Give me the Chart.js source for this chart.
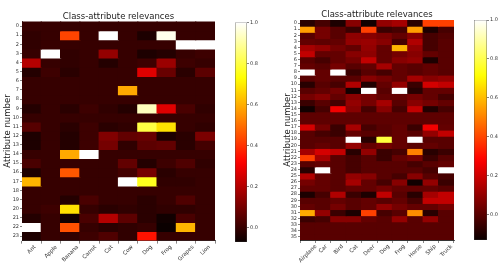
<!DOCTYPE html>
<html>
<head>
<meta charset="utf-8">
<script src="https://cdn.jsdelivr.net/npm/chart.js@4.4.1/dist/chart.umd.min.js"></script>
<style>
  html, body { margin: 0; padding: 0; background: #fff; width: 498px; height: 268px; overflow: hidden; }
  canvas { position: absolute; top: 0; }
</style>
</head>
<body>
<canvas id="heatA" width="225" height="268" style="left:0px"></canvas>
<canvas id="barA" width="40" height="268" style="left:228px"></canvas>
<canvas id="heatB" width="184" height="268" style="left:278px"></canvas>
<canvas id="barB" width="32" height="268" style="left:466px"></canvas>
<script>
// left panel: food / animal classes, 24 attributes
const foodClasses = ['Ant', 'Apple', 'Banana', 'Carrot', 'Cat', 'Cow', 'Dog', 'Frog', 'Grapes', 'Lion'];
const foodRelevance = [
  [0, 0, 0, 0, 0, 0, 0, 0, 0, 0],
  [-0.01, 0, 0.43, 0, 1.0, 0, -0.04, 0.98, 0, 0],
  [-0.01, 0, 0, 0, 0, 0, 0, 0, 1.0, 1.0],
  [0, 1.0, -0.01, 0, 0.15, 0, -0.04, -0.03, 0, 0.01],
  [0.2, 0, -0.01, 0, -0.03, 0, 0.01, 0.16, 0.01, 0],
  [-0.03, 0.01, -0.02, 0, 0, 0, 0.27, 0.08, -0.02, 0.06],
  [0, 0, 0, 0, 0, 0, 0, 0, 0, 0],
  [0, 0, 0, 0, 0, 0.59, 0, 0, 0, 0],
  [0, 0, 0, 0, 0, 0, 0, 0, 0, 0],
  [-0.03, 0, -0.02, 0.01, -0.01, -0.03, 0.93, 0.27, 0.03, -0.01],
  [0, 0, 0, 0, 0, 0, 0, 0, 0, 0],
  [0.05, 0, -0.02, 0.01, -0.02, -0.01, 0.8, 0.68, 0, -0.01],
  [-0.04, 0, -0.03, 0.01, 0.12, 0.07, 0.08, -0.04, -0.02, 0.11],
  [-0.04, 0, -0.03, 0.01, 0.1, -0.01, 0.06, 0.07, -0.02, 0.02],
  [0, 0, 0.59, 1.0, 0, 0, 0, 0, 0, 0],
  [0.03, 0, 0, 0, 0, 0.07, -0.03, 0.01, 0.04, -0.01],
  [-0.04, 0, 0.46, 0, 0, 0.02, 0.1, -0.02, 0, 0],
  [0.61, 0, 0, 0, 0, 1.0, 0.76, -0.01, -0.01, 0],
  [0, 0, 0, 0, 0, 0, 0, 0, 0, 0],
  [0, 0, -0.03, 0.03, 0, 0, -0.02, 0, 0.04, 0],
  [0, 0.01, 0.68, 0, -0.02, -0.01, -0.02, -0.01, -0.01, 0],
  [-0.03, 0, -0.06, 0.03, 0.2, 0.06, -0.02, -0.06, 0.03, 0],
  [1.0, 0, 0.45, 0, -0.02, -0.01, 0, -0.07, 0.61, 0],
  [-0.04, 0, -0.01, 0.01, 0.04, -0.01, 0.35, 0, 0, 0],
];
const foodRange = [-0.07, 1.0];

// right panel: CIFAR-like classes, 36 attributes
const cifarClasses = ['Airplane', 'Car', 'Bird', 'Cat', 'Deer', 'Dog', 'Frog', 'Horse', 'Ship', 'Truck'];
const cifarRelevance = [
  [-0.08, -0.03, -0.1, 0.08, -0.12, 0.1, 0.13, -0.08, 0.39, 0.39],
  [0.55, 0.05, 0, -0.05, 0.39, -0.05, -0.03, 0.55, -0.1, -0.03],
  [0, 0.05, 0, 0.09, 0.08, 0.06, 0.02, 0.08, -0.03, -0.01],
  [0.02, 0.01, 0.02, 0.1, 0.11, 0.08, -0.03, 0.15, -0.03, 0],
  [0.13, 0.1, 0.05, 0.02, 0.1, 0.02, 0.59, 0.1, -0.03, 0],
  [0.18, 0.02, 0.02, 0.08, 0.09, 0.02, 0.05, 0.08, 0.02, 0],
  [0, -0.03, 0.02, 0.05, 0.18, 0.02, 0.08, 0.1, -0.1, 0],
  [0.02, 0, 0.05, 0, 0.02, 0.13, 0.02, 0, 0.02, 0],
  [1.0, 0.02, 1.0, -0.05, 0, -0.03, 0.02, 0, 0.02, 0],
  [0, 0.02, 0, 0, 0.08, 0.05, 0.02, 0.13, 0.08, 0.1],
  [-0.08, 0, -0.03, 0.15, -0.09, 0.02, 0.1, -0.05, 0.21, 0.18],
  [0, 0.02, 0.05, -0.12, 1.0, 0, 1.0, -0.08, 0.02, 0.02],
  [0.05, 0.08, 0.02, 0.08, 0.05, 0.02, 0.02, 0.05, 0.02, -0.03],
  [-0.05, 0, -0.03, 0.1, 0.05, 0.13, 0, 0.08, 0.05, 0.02],
  [-0.12, -0.03, 0.26, 0.08, -0.03, 0.08, -0.03, 0.18, -0.09, -0.03],
  [0.01, 0.01, 0.01, 0.01, 0.01, 0.01, 0.01, 0.01, 0.01, 0.01],
  [0.01, 0.01, 0.01, 0.01, 0.01, 0.01, 0.01, 0.01, 0.01, 0.01],
  [0.21, 0.05, -0.05, 0.13, -0.03, 0, 0.02, -0.05, 0.26, 0.02],
  [0, -0.03, -0.05, 0.02, 0, 0, 0.02, 0, 0.1, 0.18],
  [0, 0, 0, 1.0, -0.08, 0.78, 0.02, 1.0, 0, 0],
  [0, 0.02, 0, 0.1, 0.02, 0.05, 0.02, 0, 0.02, 0],
  [0.13, 0.21, 0.18, -0.08, 0.1, -0.05, -0.03, 0.5, -0.08, -0.05],
  [0.39, 0.13, 0, -0.03, 0, -0.05, 0.02, 0.05, -0.05, 0],
  [0, 0.02, 0, -0.03, 0, 0, 0, -0.03, 0, 0.02],
  [-0.08, 1.0, 0, -0.03, 0, 0, 0, 0, -0.03, 1.0],
  [0.15, 0.02, 0, 0.1, 0.08, 0, -0.03, 0.08, 0, -0.03],
  [0.05, 0.02, 0, 0.13, 0.02, -0.03, 0.08, -0.12, 0.1, -0.05],
  [0.02, 0.02, 0, 0.02, 0.02, 0.05, 0.02, 0.02, 0.02, 0],
  [-0.1, -0.03, 0.15, -0.05, -0.1, 0.18, 0, -0.08, 0.13, 0.18],
  [0, 0, 0.02, 0, 0.02, 0, 0.02, -0.03, 0.18, 0.18],
  [0.02, 0, 0.05, 0, 0.02, 0.1, 0.05, 0.02, 0.02, 0.05],
  [0.57, 0.1, -0.05, -0.1, 0.39, -0.03, 0, 0.52, -0.08, 0],
  [-0.05, -0.03, 0.08, 0.08, 0.02, 0, 0.1, 0, 0.1, 0],
  [0, 0, 0, 0, 0, 0, 0, 0, 0, 0],
  [0, 0, 0, 0, 0, 0, 0, 0, 0, 0],
  [0, 0, 0, 0, 0, 0, 0, 0, 0, 0],
];
const cifarRange = [-0.13, 1.0];

const colorbarTicks = [0, 0.2, 0.4, 0.6, 0.8, 1.0];

const FONT = "'DejaVu Sans', sans-serif";

// matplotlib 'hot'
function hot(t) {
  t = Math.max(0, Math.min(1, t));
  const r = Math.min(1, 0.0416 + 0.9584 * t / 0.365079);
  const g = Math.max(0, Math.min(1, (t - 0.365079) / 0.380953));
  const b = Math.max(0, Math.min(1, (t - 0.746032) / 0.253968));
  return `rgb(${Math.round(r * 255)},${Math.round(g * 255)},${Math.round(b * 255)})`;
}

// x labels rotated 45deg and centred under the tick, like matplotlib
const rotatedLabels = {
  id: 'rotatedLabels',
  afterDraw(chart) {
    const xs = chart.scales.x;
    const ctx = chart.ctx;
    const size = 5.5;
    ctx.save();
    ctx.font = `${size}px ${FONT}`;
    ctx.fillStyle = '#333';
    ctx.textAlign = 'center';
    ctx.textBaseline = 'middle';
    xs.getLabels().forEach((lab, i) => {
      const w = ctx.measureText(lab).width + size;
      const x = xs.getPixelForTick(i);
      const y = xs.top + 3.7 + w * Math.SQRT1_2 / 2;
      ctx.save();
      ctx.translate(x, y);
      ctx.rotate(-Math.PI / 4);
      ctx.fillText(lab, 0, 0);
      ctx.restore();
    });
    ctx.restore();
  },
};

function heatmap(id, cols, values, range, box) {
  const [vmin, vmax] = range;
  const rows = values.map((_, i) => i);
  return new Chart(document.getElementById(id), {
    type: 'bar',
    data: {
      labels: cols,
      datasets: values.map((row, r) => ({
        data: row.map(() => [r - 0.5, r + 0.5]),
        backgroundColor: row.map(v => hot((v - vmin) / (vmax - vmin))),
        grouped: false,
        barPercentage: 1,
        categoryPercentage: 1,
        borderWidth: 0,
        inflateAmount: 0.6,
      })),
    },
    options: {
      responsive: false,
      animation: false,
      events: [],
      layout: { padding: { left: 0, right: box.right, top: 0, bottom: 0 } },
      plugins: {
        legend: { display: false },
        tooltip: { enabled: false },
        title: {
          display: true,
          fullSize: false,
          text: 'Class-attribute relevances',
          color: '#222',
          font: { family: FONT, size: 8.5, weight: 'normal' },
          padding: { top: box.titleTop, bottom: 0 },
        },
      },
      scales: {
        x: {
          type: 'category',
          ticks: { display: false },
          grid: { drawOnChartArea: false, tickLength: 3, color: '#333', lineWidth: 0.6 },
          border: { color: '#000', width: 0.8 },
          afterFit: s => { s.height = box.xh; },
        },
        y: {
          type: 'linear',
          reverse: true,
          min: -0.5,
          max: rows.length - 0.5,
          afterBuildTicks: s => { s.ticks = rows.map(v => ({ value: v })); },
          ticks: { font: { family: FONT, size: 5 }, color: '#333', padding: 1, autoSkip: false },
          grid: { drawOnChartArea: false, tickLength: 2, color: '#333', lineWidth: 0.6 },
          border: { color: '#000', width: 0.8 },
          title: {
            display: true,
            text: 'Attribute number',
            color: '#222',
            font: { family: FONT, size: 8.5 },
            padding: { top: box.yTitlePad, bottom: 0 },
          },
          afterFit: s => { s.width = box.yw; },
        },
      },
    },
    plugins: [rotatedLabels],
  });
}

function colorbar(id, range, box) {
  const [vmin, vmax] = range;
  return new Chart(document.getElementById(id), {
    type: 'bar',
    data: {
      labels: [''],
      datasets: [{
        data: [[vmin, vmax]],
        backgroundColor: ctx => {
          const chart = ctx.chart;
          if (!chart.chartArea) return '#000';
          const ys = chart.scales.y;
          const g = chart.ctx.createLinearGradient(0, ys.getPixelForValue(vmin), 0, ys.getPixelForValue(vmax));
          for (let i = 0; i <= 40; i++) g.addColorStop(i / 40, hot(i / 40));
          return g;
        },
        borderColor: '#444',
        borderWidth: 0.7,
        borderSkipped: false,
        barPercentage: 1,
        categoryPercentage: 1,
      }],
    },
    options: {
      responsive: false,
      animation: false,
      events: [],
      layout: { padding: { left: box.left, top: box.top, bottom: box.bottom, right: 0 } },
      plugins: { legend: { display: false }, tooltip: { enabled: false } },
      scales: {
        x: { display: false },
        y: {
          position: 'right',
          min: vmin,
          max: vmax,
          afterBuildTicks: s => { s.ticks = colorbarTicks.map(v => ({ value: v })); },
          ticks: { font: { family: FONT, size: 5 }, color: '#333', padding: 1, callback: v => v.toFixed(1) },
          grid: { drawOnChartArea: false, tickLength: 2, color: '#333', lineWidth: 0.6 },
          border: { display: false },
          afterFit: s => { s.width = box.yw; },
        },
      },
    },
  });
}

heatmap('heatA', foodClasses, foodRelevance, foodRange,
  { right: 10, yw: 22, xh: 27.4, titleTop: 11.3, yTitlePad: 3 });
colorbar('barA', foodRange, { left: 7, top: 22.5, bottom: 26, yw: 21 });
heatmap('heatB', cifarClasses, cifarRelevance, cifarRange,
  { right: 8, yw: 22, xh: 28, titleTop: 9.8, yTitlePad: 4.4 });
colorbar('barB', cifarRange, { left: 8, top: 20, bottom: 28, yw: 11 });
</script>
</body>
</html>
